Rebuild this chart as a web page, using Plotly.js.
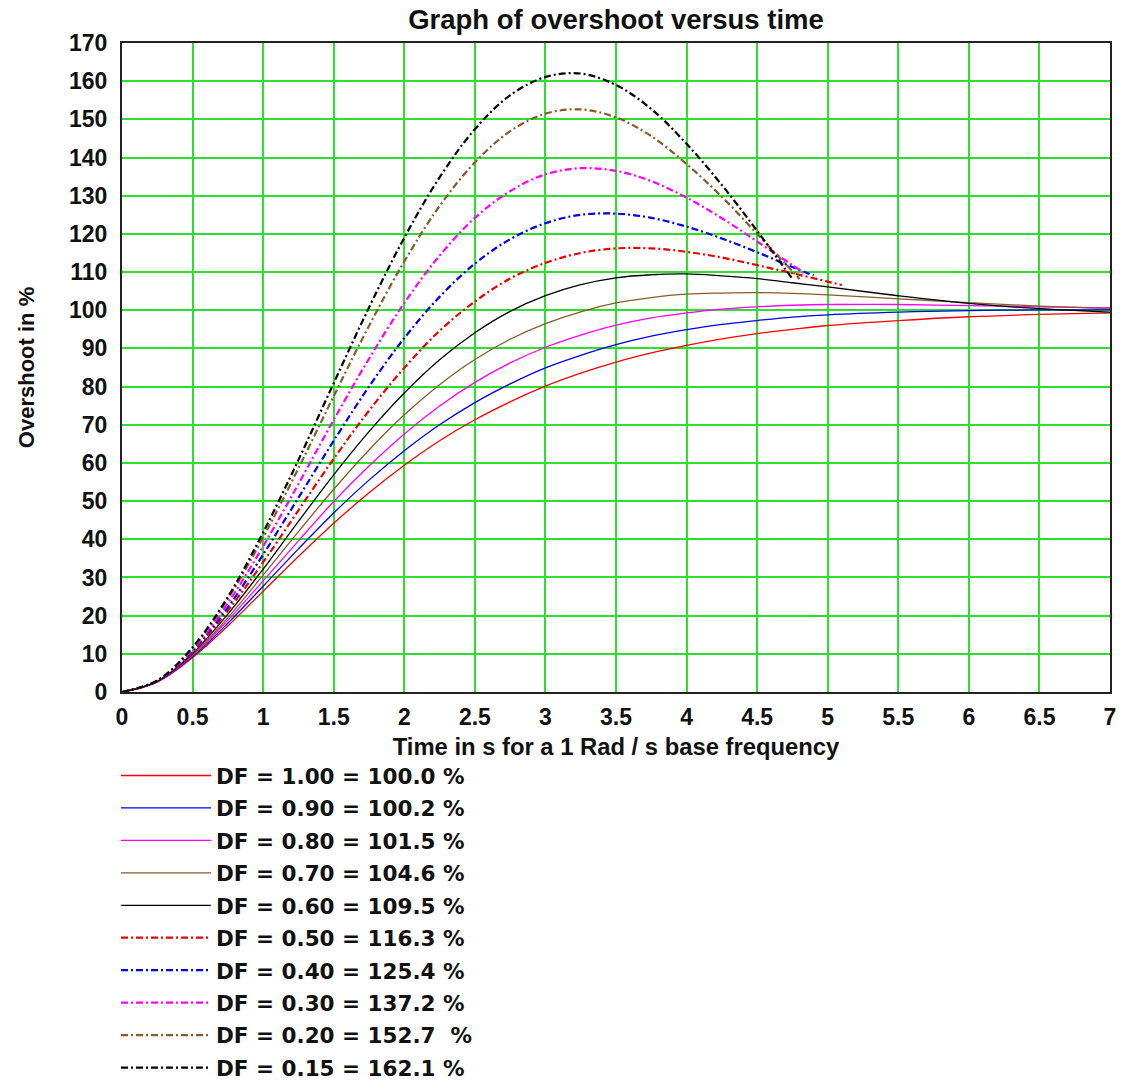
<!DOCTYPE html>
<html>
<head>
<meta charset="utf-8">
<script src="https://cdn.plot.ly/plotly-3.0.1.min.js"></script>
<style>
  html, body { margin: 0; padding: 0; background: #ffffff; }
  #chart { width: 1143px; height: 1081px; }
</style>
</head>
<body>
<div id="chart"></div>
<script>
// ---- Data ----
// time (s) sampling for the solid (DF >= 0.6) curves
const tSolid = [0,0.25,0.5,0.75,1,1.25,1.5,1.75,2,2.25,2.5,2.75,3,3.25,3.5,3.75,4,4.25,4.5,4.75,5,5.5,6,6.5,7];
const df100 = [0,2.6,9.0,17.3,26.4,35.5,44.2,52.2,59.4,65.8,71.3,76.0,80.1,83.5,86.4,88.8,90.8,92.5,93.9,95.0,96.0,97.3,98.3,98.9,99.3];
const df090 = [0,2.7,9.3,18.0,27.7,37.5,46.9,55.5,63.2,70.0,75.8,80.7,84.9,88.2,91.0,93.2,94.9,96.3,97.3,98.2,98.8,99.5,99.9,100.1,100.1];
const df080 = [0,2.7,9.6,18.8,29.1,39.6,49.9,59.2,67.6,74.9,81.1,86.2,90.3,93.5,96.1,98.0,99.3,100.3,100.9,101.3,101.5,101.5,101.2,100.9,100.6];
const df070 = [0,2.8,9.8,19.5,30.6,42.0,53.1,63.4,72.6,80.5,87.1,92.4,96.5,99.6,101.9,103.3,104.2,104.5,104.6,104.4,104.0,103.0,102.0,101.1,100.5];
const df060 = [0,2.8,10.1,20.4,32.2,44.7,56.9,68.2,78.3,87.0,94.1,99.7,103.8,106.7,108.5,109.3,109.5,109.0,108.3,107.2,106.1,103.8,101.8,100.4,99.5];

// dash-dot curves stop near t = 5
const tDF050 = [0,0.25,0.5,0.75,1,1.25,1.5,1.75,2,2.25,2.5,2.75,3,3.25,3.5,3.75,4,4.25,4.5,4.75,5,5.1];
const df050  = [0,2.9,10.4,21.3,34.0,47.6,61.1,73.7,84.9,94.6,102.3,108.3,112.4,115.0,116.2,116.2,115.3,113.8,111.8,109.7,107.5,106.6];
const tDF040 = [0,0.25,0.5,0.75,1,1.25,1.5,1.75,2,2.25,2.5,2.75,3,3.25,3.5,3.75,4,4.25,4.5,4.75,4.9];
const df040  = [0,2.9,10.8,22.2,36.0,50.9,65.8,80.0,92.7,103.5,112.2,118.6,122.8,125.0,125.3,124.2,121.9,118.8,115.2,111.3,109.1];
const tDF030 = [0,0.25,0.5,0.75,1,1.25,1.5,1.75,2,2.25,2.5,2.75,3,3.25,3.5,3.75,4,4.25,4.5,4.75,4.85];
const df030  = [0,3.0,11.1,23.3,38.2,54.5,71.3,87.3,101.9,114.3,124.2,131.2,135.6,137.2,136.5,133.8,129.5,124.1,118.0,111.8,109.3];
const tDF020 = [0,0.25,0.5,0.75,1,1.25,1.5,1.75,2,2.25,2.5,2.75,3,3.25,3.5,3.75,4,4.25,4.5,4.75,4.8];
const df020  = [0,3.0,11.5,24.4,40.5,58.6,77.5,95.9,112.8,127.3,138.7,146.9,151.5,152.6,150.5,145.6,138.3,129.7,120.0,110.2,108.2];
const tDF015 = [0,0.25,0.5,0.75,1,1.25,1.5,1.75,2,2.25,2.5,2.75,3,3.25,3.5,3.75,4,4.25,4.5,4.75];
const df015  = [0,3.0,11.7,24.9,41.8,60.8,80.9,100.7,119.0,134.8,147.4,156.3,161.1,162.0,159.0,152.7,143.6,132.8,120.8,108.2];

const seriesLabels = [
  "DF = 1.00 = 100.0 %",
  "DF = 0.90 = 100.2 %",
  "DF = 0.80 = 101.5 %",
  "DF = 0.70 = 104.6 %",
  "DF = 0.60 = 109.5 %",
  "DF = 0.50 = 116.3 %",
  "DF = 0.40 = 125.4 %",
  "DF = 0.30 = 137.2 %",
  "DF = 0.20 = 152.7\u00a0 %",
  "DF = 0.15 = 162.1 %"
];
const seriesX = [tSolid, tSolid, tSolid, tSolid, tSolid, tDF050, tDF040, tDF030, tDF020, tDF015];
const seriesY = [df100, df090, df080, df070, df060, df050, df040, df030, df020, df015];

// ---- Styles ----
const colors = ["#ff0000", "#0000ee", "#ff00ff", "#8b5a2b", "#000000",
                "#ee0000", "#0000ee", "#ff00ff", "#8b5a2b", "#000000"];
const isDashed = [false, false, false, false, false, true, true, true, true, true];

const traces = seriesLabels.map((name, i) => ({
  type: "scatter",
  mode: "lines",
  name: name,
  x: seriesX[i],
  y: seriesY[i],
  legendgroup: "g" + i,
  line: {
    color: colors[i],
    width: isDashed[i] ? 2.2 : 1.3,
    dash: isDashed[i] ? "7px,3px,2px,3px" : "solid",
    shape: "spline",
    smoothing: 1
  },
  hoverinfo: "skip"
}));

const axisFont = { family: "Liberation Sans, Arial, sans-serif", size: 23, color: "#111111", weight: "bold" };

const layout = {
  width: 1143,
  height: 1081,
  margin: { l: 122, r: 33, t: 43, b: 389, autoexpand: false },
  paper_bgcolor: "#ffffff",
  plot_bgcolor: "#ffffff",
  showlegend: true,
  title: {
    text: "Graph of overshoot versus time",
    font: { family: "Liberation Sans, Arial, sans-serif", size: 27.5, color: "#111111", weight: "bold" },
    x: 0.5, xref: "paper",
    y: 1 - 19 / 1081, yref: "container", yanchor: "middle"
  },
  xaxis: {
    range: [0, 7],
    tick0: 0, dtick: 0.5,
    showgrid: true, gridcolor: "#2ee02e", gridwidth: 2,
    zeroline: false,
    showline: true, linecolor: "#222222", linewidth: 2, mirror: true,
    ticks: "",
    ticklabelstandoff: 3,
    tickfont: axisFont,
    automargin: false,
    title: {
      text: "Time in s for a 1 Rad / s base frequency",
      font: { family: "Liberation Sans, Arial, sans-serif", size: 23.8, color: "#111111", weight: "bold" },
      standoff: 10
    }
  },
  yaxis: {
    range: [0, 170],
    tick0: 0, dtick: 10,
    showgrid: true, gridcolor: "#2ee02e", gridwidth: 2,
    zeroline: false,
    showline: true, linecolor: "#222222", linewidth: 2, mirror: true,
    ticks: "",
    ticklabelstandoff: 8,
    tickfont: axisFont,
    automargin: false,
    title: {
      text: "Overshoot in %",
      font: { family: "Liberation Sans, Arial, sans-serif", size: 22, color: "#111111", weight: "bold" },
      standoff: 28
    }
  },
  legend: {
    x: (116 - 122) / 988, xanchor: "left",
    y: (692 - 755) / 649, yanchor: "top",
    orientation: "v",
    traceorder: "grouped",
    tracegroupgap: 1.5,
    itemwidth: 90,
    bgcolor: "rgba(0,0,0,0)",
    font: { family: "DejaVu Sans, Verdana, sans-serif", size: 21.5, color: "#111111", weight: "bold" }
  }
};

Plotly.newPlot("chart", traces, layout, { displayModeBar: false, staticPlot: true });
</script>
</body>
</html>
